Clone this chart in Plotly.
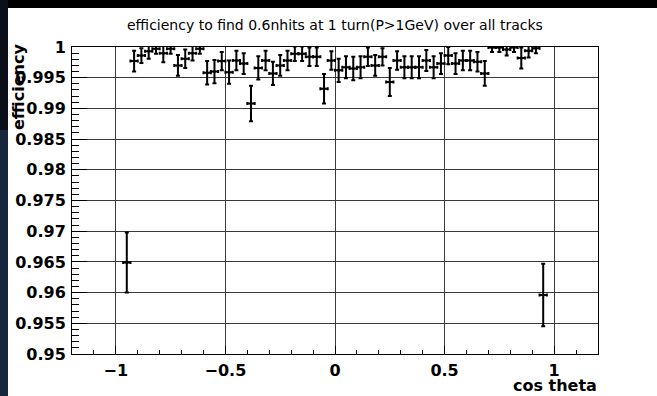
import plotly.graph_objects as go

# 60 bins in cos theta over [-1, 1]; bins 1..58 are filled
n_bins = 60
first_bin = 1
efficiency = [
    0.9649, 0.9977, 0.9986, 0.9993, 0.9997, 0.9990, 0.9997, 0.9970, 0.9981, 0.9990,
    0.9997, 0.9958, 0.9960, 0.9977, 0.9959, 0.9978, 0.9973, 0.9908, 0.9966, 0.9978,
    0.9957, 0.9970, 0.9978, 0.9989, 0.9989, 0.9984, 0.9984, 0.9932, 0.9978, 0.9962,
    0.9967, 0.9965, 0.9967, 0.9984, 0.9970, 0.9984, 0.9943, 0.9978, 0.9967, 0.9967,
    0.9967, 0.9978, 0.9967, 0.9973, 0.9986, 0.9973, 0.9978, 0.9978, 0.9976, 0.9957,
    0.9999, 0.9999, 0.9996, 0.9999, 0.9982, 0.9994, 0.9998, 0.9596,
]
efficiency_err = [
    0.0049, 0.0017, 0.0012, 0.0012, 0.0008, 0.0015, 0.0008, 0.0017, 0.0015, 0.0012,
    0.0008, 0.0019, 0.0019, 0.0015, 0.0019, 0.0016, 0.0017, 0.0029, 0.0019, 0.0016,
    0.0019, 0.0017, 0.0016, 0.0012, 0.0012, 0.0015, 0.0015, 0.0024, 0.0015, 0.0019,
    0.0018, 0.0019, 0.0018, 0.0015, 0.0017, 0.0014, 0.0023, 0.0015, 0.0018, 0.0018,
    0.0018, 0.0017, 0.0018, 0.0017, 0.0014, 0.0017, 0.0016, 0.0016, 0.0016, 0.0020,
    0.0007, 0.0007, 0.0010, 0.0007, 0.0017, 0.0011, 0.0008, 0.0051,
]
bin_width = 2.0 / n_bins
cos_theta = [-1 + (first_bin + k + 0.5) * bin_width for k in range(len(efficiency))]

x_tick_vals = [-1, -0.5, 0, 0.5, 1]
x_tick_text = ["\u22121", "\u22120.5", "0", "0.5", "1"]
y_tick_vals = [0.95, 0.955, 0.96, 0.965, 0.97, 0.975, 0.98, 0.985, 0.99, 0.995, 1.0]
y_tick_text = ["0.95", "0.955", "0.96", "0.965", "0.97", "0.975", "0.98", "0.985", "0.99", "0.995", "1"]

title_text = "efficiency to find 0.6nhits at 1 turn(P>1GeV) over all tracks"
x_title = "cos theta"
y_title = "efficiency"

fig = go.Figure()
fig.add_trace(go.Scatter(
    x=cos_theta, y=efficiency, mode="markers",
    marker=dict(size=3, color="black"),
    error_y=dict(type="data", array=efficiency_err, color="black", thickness=2, width=2),
    error_x=dict(type="constant", value=bin_width / 2, color="black", thickness=2, width=1.5),
    showlegend=False, hoverinfo="skip",
))

L, R, T, B = 72, 59, 47, 42
W, H = 657, 396
pw, ph = W - L - R, H - T - B

def px(xp):
    return (xp - L) / pw

def py(yp):
    return (H - B - yp) / ph

tickfont = dict(family="DejaVu Sans", size=16, color="black", weight="bold")

fig.update_layout(
    width=W, height=H,
    margin=dict(l=L, r=R, t=T, b=B, pad=0),
    paper_bgcolor="white", plot_bgcolor="white",
    xaxis=dict(
        range=[-1.2, 1.2], tickvals=x_tick_vals, ticktext=x_tick_text,
        ticks="inside", ticklen=8, tickwidth=1, tickcolor="black",
        minor=dict(ticks="inside", ticklen=4, dtick=0.1, tick0=0, tickcolor="black", showgrid=False),
        showgrid=True, gridcolor="#3a3a3a", gridwidth=1,
        showline=True, linecolor="black", linewidth=1, mirror=True,
        zeroline=False, tickfont=tickfont, ticklabelstandoff=2,
    ),
    yaxis=dict(
        range=[0.95, 1.0], tickvals=y_tick_vals, ticktext=y_tick_text,
        ticks="inside", ticklen=15, tickwidth=1, tickcolor="black",
        minor=dict(ticks="inside", ticklen=7, dtick=0.001, tick0=0.95, tickcolor="black", showgrid=False),
        showgrid=True, gridcolor="#3a3a3a", gridwidth=1,
        showline=True, linecolor="black", linewidth=1, mirror=True,
        zeroline=False, tickfont=tickfont, ticklabelstandoff=2,
    ),
    shapes=[
        dict(type="rect", xref="paper", yref="paper", x0=px(0), x1=px(W), y0=py(8), y1=py(0),
             fillcolor="black", line_width=0, layer="above"),
        dict(type="rect", xref="paper", yref="paper", x0=px(0), x1=px(8), y0=py(130), y1=py(0),
             fillcolor="#0a0f19", line_width=0, layer="above"),
        dict(type="rect", xref="paper", yref="paper", x0=px(0), x1=px(8), y0=py(396), y1=py(130),
             fillcolor="#17253e", line_width=0, layer="above"),
    ],
    annotations=[
        dict(text=title_text, xref="paper", yref="paper", x=px(335), y=py(25),
             xanchor="center", yanchor="middle", showarrow=False,
             font=dict(family="DejaVu Sans", size=14, color="black")),
        dict(text=x_title, xref="paper", yref="paper", x=1.0, y=py(396),
             xanchor="right", yanchor="bottom", showarrow=False, borderpad=0,
             font=dict(family="DejaVu Sans", size=16, color="black", weight="bold")),
        dict(text=y_title, xref="paper", yref="paper", x=px(19), y=py(87),
             xanchor="center", yanchor="middle", showarrow=False, textangle=-90,
             font=dict(family="DejaVu Sans", size=16, color="black", weight="bold")),
    ],
)

fig.write_html(
    "out.html",
    config={"displayModeBar": False},
    post_script="document.body.style.margin='0';document.body.style.overflow='hidden';",
)
